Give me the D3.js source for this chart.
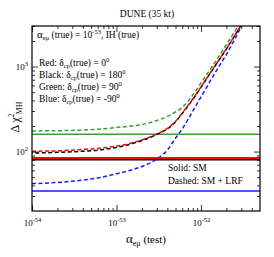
<html>
<head>
<script src="https://d3js.org/d3.v7.min.js"></script>
<style>
body { margin: 0; background: #fff; }
svg text { font-family: "Liberation Serif", "Times New Roman", serif; fill: #000; }
</style>
</head>
<body>
<svg width="274" height="257"></svg>
<script>
// alpha_emu (test) grid
var alphaTest = [1e-54, 2e-54, 4e-54, 6e-54, 1e-53, 1.5e-53, 2e-53, 3e-53, 4e-53, 5e-53, 6e-53, 8e-53, 1e-52, 1.5e-52, 2e-52, 3e-52];

// dashed: SM + LRF
var chiRedLRF   = [101, 102, 106, 109, 116, 126, 137, 161, 187, 226, 284, 415, 575, 1057, 1622, 3107];
var chiBlackLRF = [96, 98, 101, 104, 112, 123, 135, 159, 185, 224, 281, 410, 570, 1050, 1610, 3090];
var chiGreenLRF = [175, 176, 179, 183, 192, 200, 208, 232, 259, 292, 330, 463, 641, 1162, 1817, 3434];
var chiBlueLRF  = [41.9, 43.3, 46.3, 48.9, 54.9, 60.7, 66.7, 81.8, 104, 144, 184, 300, 438, 874, 1386, 2959];

// solid: SM only (flat)
var smNames  = ["green", "blue", "black", "red"];
var smValues = [160, 34.4, 80, 84];

var colors = {red: "#ff0000", black: "#000000", green: "#3a9f3a", blue: "#1a1aff"};

var xMajor = [1e-54, 1e-53, 1e-52];
var xMinor = [2e-54,3e-54,4e-54,5e-54,6e-54,7e-54,8e-54,9e-54,2e-53,3e-53,4e-53,5e-53,6e-53,7e-53,8e-53,9e-53,2e-52,3e-52,4e-52];
var yMajor = [100, 1000];
var yMinor = [30,40,50,60,70,80,90,200,300,400,500,600,700,800,900,2000,3000];

var pL = 32, pR = 260, pT = 26, pB = 211;

var svg = d3.select("svg");
var x = d3.scaleLog().domain([1e-54, 5e-52]).range([pL, pR]);
var y = d3.scaleLog().domain([20, 3000]).range([pB, pT]);

svg.append("clipPath").attr("id", "clip")
  .append("rect").attr("x", pL).attr("y", pT).attr("width", pR - pL).attr("height", pB - pT);

var plot = svg.append("g").attr("clip-path", "url(#clip)");

// solid SM lines
plot.selectAll("line.sm")
  .data(smValues)
  .enter().append("line")
  .attr("class", "sm")
  .attr("x1", pL).attr("x2", pR)
  .attr("y1", function(d){ return y(d); })
  .attr("y2", function(d){ return y(d); })
  .attr("stroke", function(d, i){ return colors[smNames[i]]; })
  .attr("stroke-width", function(d, i){ return smNames[i] == "red" ? 2 : 1.6; });

var line = d3.line()
  .x(function(d){ return x(d[0]); })
  .y(function(d){ return y(d[1]); })
  .curve(d3.curveMonotoneX);

function dashed(vals, col, off) {
  plot.append("path")
    .attr("d", line(alphaTest.map(function(a, i){ return [a, vals[i]]; })))
    .attr("fill", "none")
    .attr("stroke", col)
    .attr("stroke-width", 1.5)
    .attr("stroke-dasharray", "4,2.5")
    .attr("stroke-dashoffset", off);
}
dashed(chiGreenLRF, colors.green, 0);
dashed(chiBlueLRF, colors.blue, 0);
dashed(chiBlackLRF, colors.black, 3.25);
dashed(chiRedLRF, colors.red, 0);

// axes, ticks pointing inward
function supLabel(sel, base, exp) {
  sel.text(null);
  sel.append("tspan").text(base);
  sel.append("tspan").attr("dy", -4).attr("font-size", "6.5px").text(exp);
}

var gx = svg.append("g").attr("transform", "translate(0," + pB + ")")
  .call(d3.axisBottom(x).tickValues(xMajor).tickSizeInner(-6).tickSizeOuter(0).tickPadding(0));
gx.selectAll("text").attr("y", 15).attr("dy", 0).attr("font-size", "9px")
  .each(function(d){ supLabel(d3.select(this), "10", "-" + Math.round(-Math.log10(d))); });
svg.append("g").attr("transform", "translate(0," + pB + ")")
  .call(d3.axisBottom(x).tickValues(xMinor).tickSizeInner(-3).tickSizeOuter(0).tickFormat(""));
svg.append("g").attr("transform", "translate(0," + pT + ")")
  .call(d3.axisTop(x).tickValues(xMajor).tickSizeInner(-6).tickSizeOuter(0).tickFormat(""));
svg.append("g").attr("transform", "translate(0," + pT + ")")
  .call(d3.axisTop(x).tickValues(xMinor).tickSizeInner(-3).tickSizeOuter(0).tickFormat(""));

var gy = svg.append("g").attr("transform", "translate(" + pL + ",0)")
  .call(d3.axisLeft(y).tickValues(yMajor).tickSizeInner(-6).tickSizeOuter(0).tickPadding(4));
gy.selectAll("text").attr("font-size", "9px").attr("dy", "0.35em")
  .each(function(d){ supLabel(d3.select(this), "10", Math.round(Math.log10(d))); });
svg.append("g").attr("transform", "translate(" + pL + ",0)")
  .call(d3.axisLeft(y).tickValues(yMinor).tickSizeInner(-3).tickSizeOuter(0).tickFormat(""));
svg.append("g").attr("transform", "translate(" + pR + ",0)")
  .call(d3.axisRight(y).tickValues(yMajor).tickSizeInner(-6).tickSizeOuter(0).tickFormat(""));
svg.append("g").attr("transform", "translate(" + pR + ",0)")
  .call(d3.axisRight(y).tickValues(yMinor).tickSizeInner(-3).tickSizeOuter(0).tickFormat(""));

svg.selectAll(".domain").remove();
svg.selectAll(".tick line").attr("stroke", "#000").attr("stroke-width", 0.8);

svg.append("rect")
  .attr("x", pL).attr("y", pT).attr("width", pR - pL).attr("height", pB - pT)
  .attr("fill", "none").attr("stroke", "#000").attr("stroke-width", 1.2);

// title and axis titles
svg.append("text").attr("x", 147).attr("y", 17).attr("text-anchor", "middle")
  .attr("font-size", "9.5px").text("DUNE (35 kt)");

var xt = svg.append("text").attr("x", 146).attr("y", 243).attr("text-anchor", "middle").attr("font-size", "11px");
xt.append("tspan").attr("font-size", "13px").text("α");
xt.append("tspan").attr("dy", 3).attr("font-size", "8px").text("eμ");
xt.append("tspan").attr("dy", -3).text(" (test)");

var yt = svg.append("text").attr("transform", "translate(19,117) rotate(-90)")
  .attr("text-anchor", "middle").attr("font-size", "12px");
yt.append("tspan").text("Δ χ");
yt.append("tspan").attr("dy", -5).attr("font-size", "7.5px").text("2");
yt.append("tspan").attr("dy", 8).attr("dx", -1).attr("font-size", "8px").text("MH");

// legend text inside the frame
var fs = "9.5px";
var t0 = svg.append("text").attr("x", 37).attr("y", 38).attr("font-size", fs);
t0.append("tspan").attr("font-size", "11px").text("α");
t0.append("tspan").attr("dy", 2).attr("font-size", "6.5px").text("eμ");
t0.append("tspan").attr("dy", -2).text(" (true) = 10");
t0.append("tspan").attr("dy", -4).attr("font-size", "6.5px").text("-53");
t0.append("tspan").attr("dy", 4).text(",  IH (true)");

var legNames = ["Red", "Black", "Green", "Blue"];
var legAngles = ["0", "180", "90", "-90"];
var legY = [66, 78, 90, 102];
legNames.forEach(function(n, i){
  var t = svg.append("text").attr("x", 39).attr("y", legY[i]).attr("font-size", fs);
  t.append("tspan").text(n + ": δ");
  t.append("tspan").attr("dy", 2).attr("font-size", "6.5px").text("cp");
  t.append("tspan").attr("dy", -2).text("(true) = " + legAngles[i]);
  t.append("tspan").attr("dy", -4).attr("font-size", "6.5px").text("0");
});

svg.append("text").attr("x", 168).attr("y", 171).attr("font-size", fs).text("Solid: SM");
svg.append("text").attr("x", 168).attr("y", 184).attr("font-size", fs).text("Dashed: SM + LRF");
</script>
</body>
</html>
